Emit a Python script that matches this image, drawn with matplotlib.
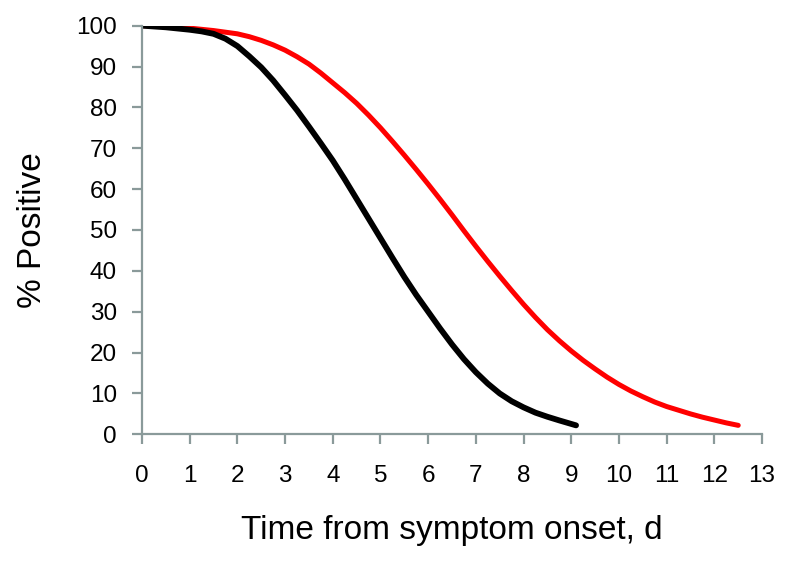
import matplotlib
matplotlib.use('Agg')
import matplotlib.pyplot as plt

days_black = [0, 0.25, 0.5, 0.75, 1, 1.25, 1.5, 1.75, 2, 2.25, 2.5, 2.75, 3, 3.25, 3.5, 3.75,
              4, 4.25, 4.5, 4.75, 5, 5.25, 5.5, 5.75, 6, 6.25, 6.5, 6.75, 7, 7.25, 7.5, 7.75,
              8, 8.25, 8.5, 8.75, 9.1]
pct_black = [100, 99.8, 99.6, 99.3, 99, 98.6, 98, 96.8, 95, 92.5, 89.8, 86.6, 83, 79.3, 75.3, 71.2,
             67, 62.4, 57.6, 52.8, 48, 43.2, 38.5, 34.1, 30, 25.9, 22, 18.4, 15.2, 12.4, 10, 8.1,
             6.6, 5.3, 4.3, 3.4, 2.2]

days_red = [0, 0.5, 1, 1.5, 2, 2.25, 2.5, 2.75, 3, 3.25, 3.5, 3.75, 4, 4.25, 4.5, 4.75,
            5, 5.25, 5.5, 5.75, 6, 6.25, 6.5, 6.75, 7, 7.25, 7.5, 7.75, 8, 8.25, 8.5, 8.75,
            9, 9.25, 9.5, 9.75, 10, 10.25, 10.5, 10.75, 11, 11.25, 11.5, 11.75, 12, 12.25, 12.5]
pct_red = [100, 99.8, 99.4, 98.8, 98, 97.3, 96.4, 95.3, 94, 92.4, 90.6, 88.4, 86, 83.6, 81, 78.1,
           75, 71.7, 68.3, 64.8, 61.2, 57.5, 53.7, 49.8, 46, 42.3, 38.7, 35.2, 31.8, 28.6, 25.6, 22.9,
           20.4, 18.1, 16, 14, 12.2, 10.6, 9.2, 7.9, 6.8, 5.9, 5, 4.2, 3.5, 2.8, 2.2]

plt.rcParams['font.family'] = ['Liberation Sans', 'DejaVu Sans']

fig = plt.figure(figsize=(7.95, 5.70), dpi=100)
ax = fig.add_axes([0.1786, 0.238, 0.780, 0.717])

ax.plot(days_red, pct_red, color='#ff0000', lw=3.6, solid_capstyle='round')
ax.plot(days_black, pct_black, color='black', lw=4.2, solid_capstyle='round')

ax.set_xlim(0, 13)
ax.set_ylim(0, 100)
ax.set_xticks(range(0, 14))
ax.set_yticks(range(0, 101, 10))

for s in ['top', 'right']:
    ax.spines[s].set_visible(False)
for s in ['left', 'bottom']:
    ax.spines[s].set_color('#8a9a9a')
    ax.spines[s].set_linewidth(1.6)
ax.tick_params(axis='both', colors='#8a9a9a', width=1.6, length=7, labelcolor='black', labelsize=17.5)
ax.tick_params(axis='x', pad=15)
ax.tick_params(axis='y', pad=11)

ax.set_xlabel('Time from symptom onset, d', fontsize=24, labelpad=20)
ax.set_ylabel('% Positive', fontsize=24, labelpad=20)

plt.savefig('out.png', dpi=100)
